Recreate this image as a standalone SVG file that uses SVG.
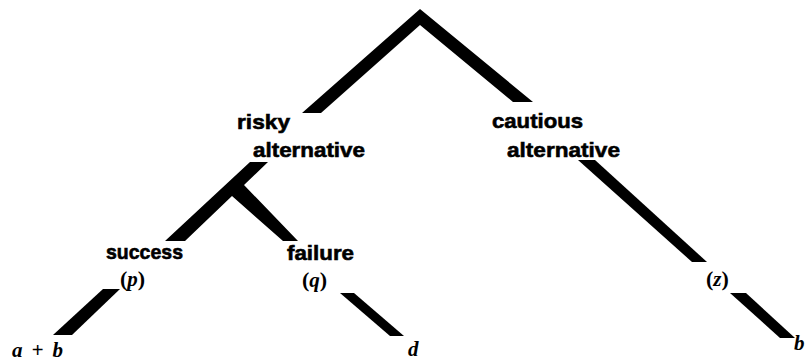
<svg xmlns="http://www.w3.org/2000/svg" width="806" height="362" viewBox="0 0 806 362">
<style>
.lbl{font-family:"Liberation Sans",Arial,sans-serif;font-weight:bold;font-size:21px;fill:#000;stroke:#000;stroke-width:0.6}
.var{font-family:"Liberation Serif","Times New Roman",serif;font-style:italic;font-weight:bold;font-size:21px;fill:#000}
.par{font-family:"Liberation Serif","Times New Roman",serif;font-weight:bold;font-size:22px;fill:#000}
.br{fill:#000;stroke:none}
</style>
<rect width="806" height="362" fill="#fff"/>
<g id="connectors">
<polygon class="br" points="420,9 533,102 513,102 420,25 321,113 302,113"/>
<polygon class="br" points="250,162 268,162 244,185 298,241 283,241 232,196 185,241 165,241"/>
<polygon class="br" points="103,289 120,289 72,335 53,335"/>
<polygon class="br" points="340,293 354,293 404,336 390,336"/>
<polygon class="br" points="578,160 595,160 707,262 692,262"/>
<polygon class="br" points="730,293 746,293 795,338 780,338"/>
</g>
<g id="risky">
<text class="lbl" x="237" y="129" textLength="53" lengthAdjust="spacingAndGlyphs">risky</text>
<text class="lbl" x="253" y="157" textLength="112" lengthAdjust="spacingAndGlyphs">alternative</text>
</g>
<g id="cautious">
<text class="lbl" x="492" y="128" textLength="91" lengthAdjust="spacingAndGlyphs">cautious</text>
<text class="lbl" x="507" y="157" textLength="113" lengthAdjust="spacingAndGlyphs">alternative</text>
</g>
<g id="success">
<text class="lbl" x="106" y="259" textLength="77" lengthAdjust="spacingAndGlyphs">success</text>
<text class="par" x="120" y="286">(<tspan class="var" font-size="22">p</tspan>)</text>
</g>
<g id="failure">
<text class="lbl" x="287" y="260" textLength="67" lengthAdjust="spacingAndGlyphs">failure</text>
<text class="par" x="302" y="287">(<tspan class="var" font-size="22">q</tspan>)</text>
</g>
<g id="z">
<text class="par" x="706" y="286">(<tspan class="var" font-size="22">z</tspan>)</text>
</g>
<g id="outcome-ab">
<text class="var" x="12" y="357" textLength="51" lengthAdjust="spacing">a + b</text>
</g>
<g id="outcome-d">
<text class="var" x="408" y="356">d</text>
</g>
<g id="outcome-b">
<text class="var" x="794" y="350">b</text>
</g>
</svg>
